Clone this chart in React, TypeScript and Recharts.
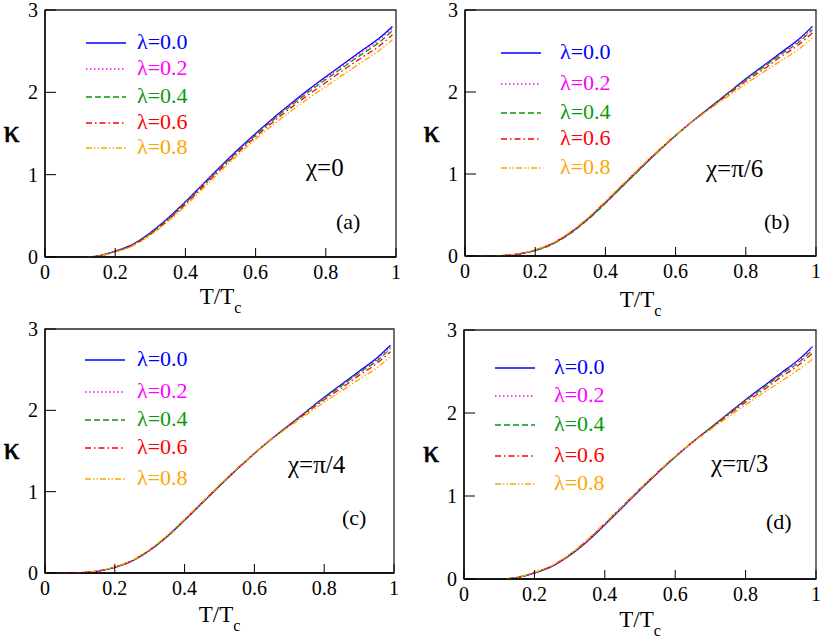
import React from 'react';
import { LineChart, Line, XAxis, YAxis, ReferenceArea, Customized } from 'recharts';

const T = [0, 0.06, 0.12, 0.16, 0.2, 0.25, 0.3, 0.35, 0.4, 0.45, 0.5, 0.55, 0.6, 0.65, 0.7, 0.75, 0.8, 0.85, 0.9, 0.95, 0.99];
const lambdaLabels = ['λ=0.0', 'λ=0.2', 'λ=0.4', 'λ=0.6', 'λ=0.8'];
const xTicks = [0, 0.2, 0.4, 0.6, 0.8, 1];
const yTicks = [0, 1, 2, 3];

// panel (a) chi = 0
const a0 = [null, null, 0, 0.02, 0.07, 0.155, 0.295, 0.47, 0.67, 0.885, 1.1, 1.305, 1.5, 1.685, 1.86, 2.03, 2.19, 2.345, 2.5, 2.65, 2.8];
const a2 = [null, null, 0, 0.02, 0.069, 0.152, 0.29, 0.465, 0.665, 0.878, 1.09, 1.295, 1.49, 1.675, 1.85, 2.02, 2.175, 2.33, 2.48, 2.63, 2.78];
const a4 = [null, null, 0, 0.019, 0.067, 0.148, 0.285, 0.457, 0.655, 0.868, 1.08, 1.285, 1.48, 1.665, 1.835, 2.0, 2.155, 2.305, 2.455, 2.6, 2.75];
const a6 = [null, null, 0, 0.018, 0.064, 0.142, 0.275, 0.445, 0.64, 0.853, 1.065, 1.268, 1.46, 1.64, 1.81, 1.97, 2.12, 2.27, 2.415, 2.555, 2.7];
const a8 = [null, null, 0, 0.016, 0.06, 0.135, 0.265, 0.43, 0.62, 0.83, 1.04, 1.24, 1.43, 1.605, 1.77, 1.925, 2.07, 2.215, 2.36, 2.5, 2.64];

// panel (b) chi = pi/6
const b0 = [0, 0.001, 0.008, 0.03, 0.07, 0.15, 0.28, 0.45, 0.65, 0.86, 1.07, 1.275, 1.47, 1.65, 1.82, 1.99, 2.16, 2.32, 2.48, 2.64, 2.8];
const b2 = [0, 0.001, 0.008, 0.03, 0.07, 0.15, 0.28, 0.45, 0.65, 0.86, 1.07, 1.275, 1.47, 1.65, 1.82, 1.99, 2.155, 2.31, 2.47, 2.625, 2.78];
const b4 = [0, 0.001, 0.008, 0.029, 0.068, 0.146, 0.274, 0.443, 0.642, 0.853, 1.065, 1.272, 1.467, 1.648, 1.818, 1.985, 2.15, 2.3, 2.46, 2.605, 2.76];
const b6 = [0, 0.001, 0.009, 0.032, 0.073, 0.155, 0.287, 0.458, 0.66, 0.87, 1.08, 1.282, 1.472, 1.648, 1.81, 1.97, 2.13, 2.275, 2.43, 2.575, 2.72];
const b8 = [0, 0.001, 0.01, 0.034, 0.076, 0.16, 0.295, 0.467, 0.668, 0.877, 1.085, 1.287, 1.475, 1.645, 1.8, 1.95, 2.1, 2.24, 2.38, 2.52, 2.66];

// panel (c) chi = pi/4
const c0 = [0, 0.001, 0.008, 0.03, 0.07, 0.15, 0.28, 0.45, 0.65, 0.86, 1.07, 1.275, 1.47, 1.65, 1.82, 1.99, 2.16, 2.32, 2.48, 2.64, 2.8];
const c2 = [0, 0.001, 0.008, 0.03, 0.069, 0.148, 0.276, 0.445, 0.645, 0.856, 1.067, 1.274, 1.468, 1.65, 1.82, 1.99, 2.155, 2.31, 2.47, 2.625, 2.78];
const c4 = [0, 0.001, 0.008, 0.03, 0.07, 0.15, 0.28, 0.45, 0.65, 0.86, 1.07, 1.275, 1.47, 1.65, 1.82, 1.985, 2.15, 2.3, 2.46, 2.605, 2.76];
const c6 = [0, 0.001, 0.009, 0.032, 0.072, 0.154, 0.285, 0.456, 0.657, 0.867, 1.077, 1.28, 1.471, 1.649, 1.812, 1.972, 2.13, 2.275, 2.43, 2.575, 2.72];
const c8 = [0, 0.001, 0.01, 0.033, 0.075, 0.158, 0.29, 0.462, 0.663, 0.872, 1.082, 1.284, 1.473, 1.645, 1.8, 1.95, 2.1, 2.24, 2.38, 2.52, 2.66];

// panel (d) chi = pi/3
const d0 = [null, null, 0, 0.025, 0.072, 0.152, 0.282, 0.452, 0.652, 0.862, 1.072, 1.277, 1.47, 1.65, 1.82, 1.99, 2.16, 2.32, 2.48, 2.64, 2.8];
const d2 = [null, null, 0, 0.025, 0.073, 0.154, 0.285, 0.456, 0.657, 0.867, 1.077, 1.28, 1.472, 1.651, 1.82, 1.99, 2.155, 2.31, 2.47, 2.625, 2.78];
const d4 = [null, null, 0, 0.026, 0.075, 0.157, 0.289, 0.461, 0.662, 0.872, 1.081, 1.283, 1.474, 1.652, 1.82, 1.985, 2.15, 2.3, 2.46, 2.605, 2.76];
const d6 = [null, null, 0, 0.027, 0.077, 0.16, 0.293, 0.466, 0.667, 0.876, 1.085, 1.286, 1.476, 1.652, 1.812, 1.972, 2.13, 2.275, 2.43, 2.575, 2.72];
const d8 = [null, null, 0, 0.028, 0.079, 0.163, 0.297, 0.47, 0.672, 0.88, 1.089, 1.289, 1.478, 1.648, 1.8, 1.95, 2.1, 2.24, 2.38, 2.52, 2.65];

const panelSeries = [
  [a0, a2, a4, a6, a8],
  [b0, b2, b4, b6, b8],
  [c0, c2, c4, c6, c8],
  [d0, d2, d4, d6, d8],
];
const chiLabels = ['χ=0', 'χ=π/6', 'χ=π/4', 'χ=π/3'];
const tagLabels = ['(a)', '(b)', '(c)', '(d)'];

const COLORS = ['#0000ff', '#ff00ff', '#0a990a', '#ff0000', '#ffa500'];
const DASHES = [undefined, '1.5 2.5', '6 3', '6 3 1.5 3', '6 2 1.5 2 1.5 2'];
const FONT = "'Liberation Serif', 'Times New Roman', Times, Tinos, 'DejaVu Serif', serif";

// chart boxes; lower row containers start at 310 so top tick labels are not clipped
const layouts = [
  { left: 0, top: 0, yw: 45, mr: 15, mt: 10, xh: 63, kx: 11.5, ky: 142, lx1: 86, lx2: 126, tx: 137, rows: [43, 69, 97, 123, 148], cx: 306, cy: 176, gx: 336, gy: 229, ty: 304 },
  { left: 411, top: 0, yw: 54, mr: 6, mt: 10, xh: 64, kx: 20.5, ky: 142, lx1: 90, lx2: 130, tx: 149, rows: [53, 84, 113, 139, 168], cx: 295, cy: 177, gx: 353, gy: 229, ty: 307 },
  { left: 0, top: 310, yw: 45, mr: 17, mt: 19, xh: 67, kx: 11.5, ky: 149, lx1: 85, lx2: 125, tx: 137, rows: [50, 82, 110, 138, 169], cx: 288, cy: 163, gx: 342, gy: 215, ty: 312 },
  { left: 411, top: 310, yw: 53, mr: 6, mt: 20, xh: 61, kx: 20, ky: 152, lx1: 84, lx2: 124, tx: 143, rows: [58, 86, 115, 146, 174], cx: 300, cy: 162, gx: 355, gy: 219, ty: 317 },
];

const W = 411;
const H = [320, 320, 330, 330];

function Panel({ idx }: { idx: number }) {
  const L = layouts[idx];
  const h = H[idx];
  const series = panelSeries[idx];
  const data = T.map((t, i) => ({
    T: t,
    s0: series[0][i],
    s1: series[1][i],
    s2: series[2][i],
    s3: series[3][i],
    s4: series[4][i],
  }));
  const plotCenterX = L.yw + (W - L.yw - L.mr) / 2;
  const annotations = (
    <g style={{ fontFamily: FONT }}>
      <text x={L.kx} y={L.ky} fontSize={32} textAnchor="middle" fill="#000" stroke="#000" strokeWidth={0.6}>κ</text>
      <text x={plotCenterX} y={L.ty} fontSize={23} textAnchor="middle" fill="#000">
        T/T<tspan fontSize={16} dy={9}>c</tspan>
      </text>
      {lambdaLabels.map((lab, i) => (
        <g key={lab}>
          <line x1={L.lx1} x2={L.lx2} y1={L.rows[i]} y2={L.rows[i]} stroke={COLORS[i]} strokeWidth={1.4} strokeDasharray={DASHES[i]} />
          <text x={L.tx} y={L.rows[i] + 6} fontSize={22} fill={COLORS[i]}>{lab}</text>
        </g>
      ))}
      <text x={L.cx} y={L.cy} fontSize={25} fill="#000">{chiLabels[idx]}</text>
      <text x={L.gx} y={L.gy} fontSize={22} fill="#000">{tagLabels[idx]}</text>
    </g>
  );
  return (
    <div style={{ position: 'absolute', left: L.left, top: L.top, width: W, height: h }}>
      <LineChart width={W} height={h} data={data} margin={{ top: L.mt, right: L.mr, bottom: 0, left: 0 }}>
        <XAxis
          dataKey="T"
          type="number"
          domain={[0, 1]}
          ticks={xTicks}
          interval={0}
          height={L.xh}
          tickSize={-9}
          tickMargin={17}
          axisLine={{ stroke: '#000', strokeWidth: 1.3 }}
          tickLine={{ stroke: '#000', strokeWidth: 1 }}
          tick={{ fill: '#000', fontSize: 20, fontFamily: FONT }}
        />
        <YAxis
          type="number"
          domain={[0, 3]}
          ticks={yTicks}
          interval={0}
          width={L.yw}
          tickSize={-11}
          tickMargin={18}
          axisLine={{ stroke: '#000', strokeWidth: 1.3 }}
          tickLine={{ stroke: '#000', strokeWidth: 1 }}
          tick={{ fill: '#000', fontSize: 20, fontFamily: FONT }}
        />
        <ReferenceArea x1={0} x2={1} y1={0} y2={3} fill="none" stroke="#000" strokeWidth={1.3} strokeOpacity={0.85} />
        {[0, 1, 2, 3, 4].map((i) => (
          <Line
            key={i}
            dataKey={'s' + i}
            type="monotone"
            stroke={COLORS[i]}
            strokeWidth={1.3}
            strokeDasharray={DASHES[i]}
            dot={false}
            activeDot={false}
            isAnimationActive={false}
          />
        ))}
        <Customized component={() => annotations} />
      </LineChart>
    </div>
  );
}

export default function App() {
  return (
    <div style={{ position: 'absolute', left: 0, top: 0, width: 822, height: 640, background: '#fff', fontFamily: FONT }}>
      {[0, 1, 2, 3].map((i) => (
        <Panel key={i} idx={i} />
      ))}
    </div>
  );
}
